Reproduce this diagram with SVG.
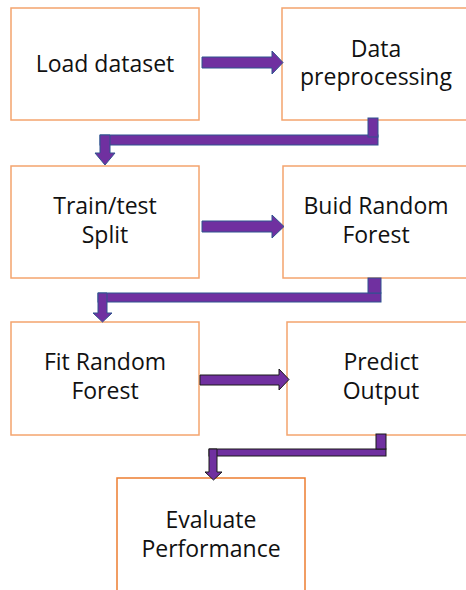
<svg xmlns="http://www.w3.org/2000/svg" width="466" height="590" viewBox="0 0 466 590">
<style>
.box{fill:#fff;stroke:#F4A46E;stroke-width:1.5}
.box7{fill:#fff;stroke:#ED7D31;stroke-width:1.5}
.t{font-family:"Open Sans","Liberation Sans",sans-serif;font-size:23px;fill:#111;text-anchor:middle}
.ab{fill:#7030A0;stroke:#2F528F;stroke-width:1}
.ak{fill:#7030A0;stroke:#1a1a1a;stroke-width:1}
</style>
<rect width="466" height="590" fill="#fff"/>
<g id="n1"><rect class="box" x="11" y="8" width="188" height="112"/><text class="t" x="105" y="72">Load dataset</text></g>
<g id="n2"><rect class="box" x="282" y="8" width="194" height="112"/><text class="t" x="376" y="57">Data</text><text class="t" x="376" y="85">preprocessing</text></g>
<g id="n3"><rect class="box" x="11" y="166" width="188" height="112"/><text class="t" x="105" y="214">Train/test</text><text class="t" x="105" y="243">Split</text></g>
<g id="n4"><rect class="box" x="283" y="166" width="194" height="112"/><text class="t" x="376" y="214">Buid Random</text><text class="t" x="376" y="243">Forest</text></g>
<g id="n5"><rect class="box" x="11" y="322" width="188" height="113"/><text class="t" x="105" y="370">Fit Random</text><text class="t" x="105" y="399">Forest</text></g>
<g id="n6"><rect class="box" x="287" y="322" width="194" height="113"/><text class="t" x="381" y="370">Predict</text><text class="t" x="381" y="399">Output</text></g>
<g id="n7"><rect class="box7" x="117" y="478" width="188" height="120"/><text class="t" x="211" y="528">Evaluate</text><text class="t" x="211" y="557">Performance</text></g>
<g id="connectors">
<polygon class="ab" points="202,57 272,57 272,51 283,62.5 272,74 272,68 202,68"/>
<rect class="ab" x="100" y="135" width="278" height="10"/>
<rect class="ab" x="368" y="118" width="10" height="19"/>
<polygon class="ab" points="100,135 110,135 110,153 115,153 105,165 95,153 100,153"/>
<polygon class="ab" points="202,221 272,221 272,215 284,226.5 272,238 272,232 202,232"/>
<rect class="ab" x="98" y="293" width="283" height="9"/>
<rect class="ab" x="368" y="278" width="13" height="15"/>
<polygon class="ab" points="98,293 107,293 107,313 112,313 102.5,322 93,313 98,313"/>
<polygon class="ak" points="200,375 279,375 279,369 289,379.5 279,390 279,385 200,385"/>
<rect class="ak" x="209" y="449" width="177" height="7"/>
<rect class="ak" x="376" y="434" width="10" height="15"/>
<polygon class="ak" points="209,449 217,449 217,472 222,472 213.5,480 205,472 209,472"/>
</g>
</svg>
